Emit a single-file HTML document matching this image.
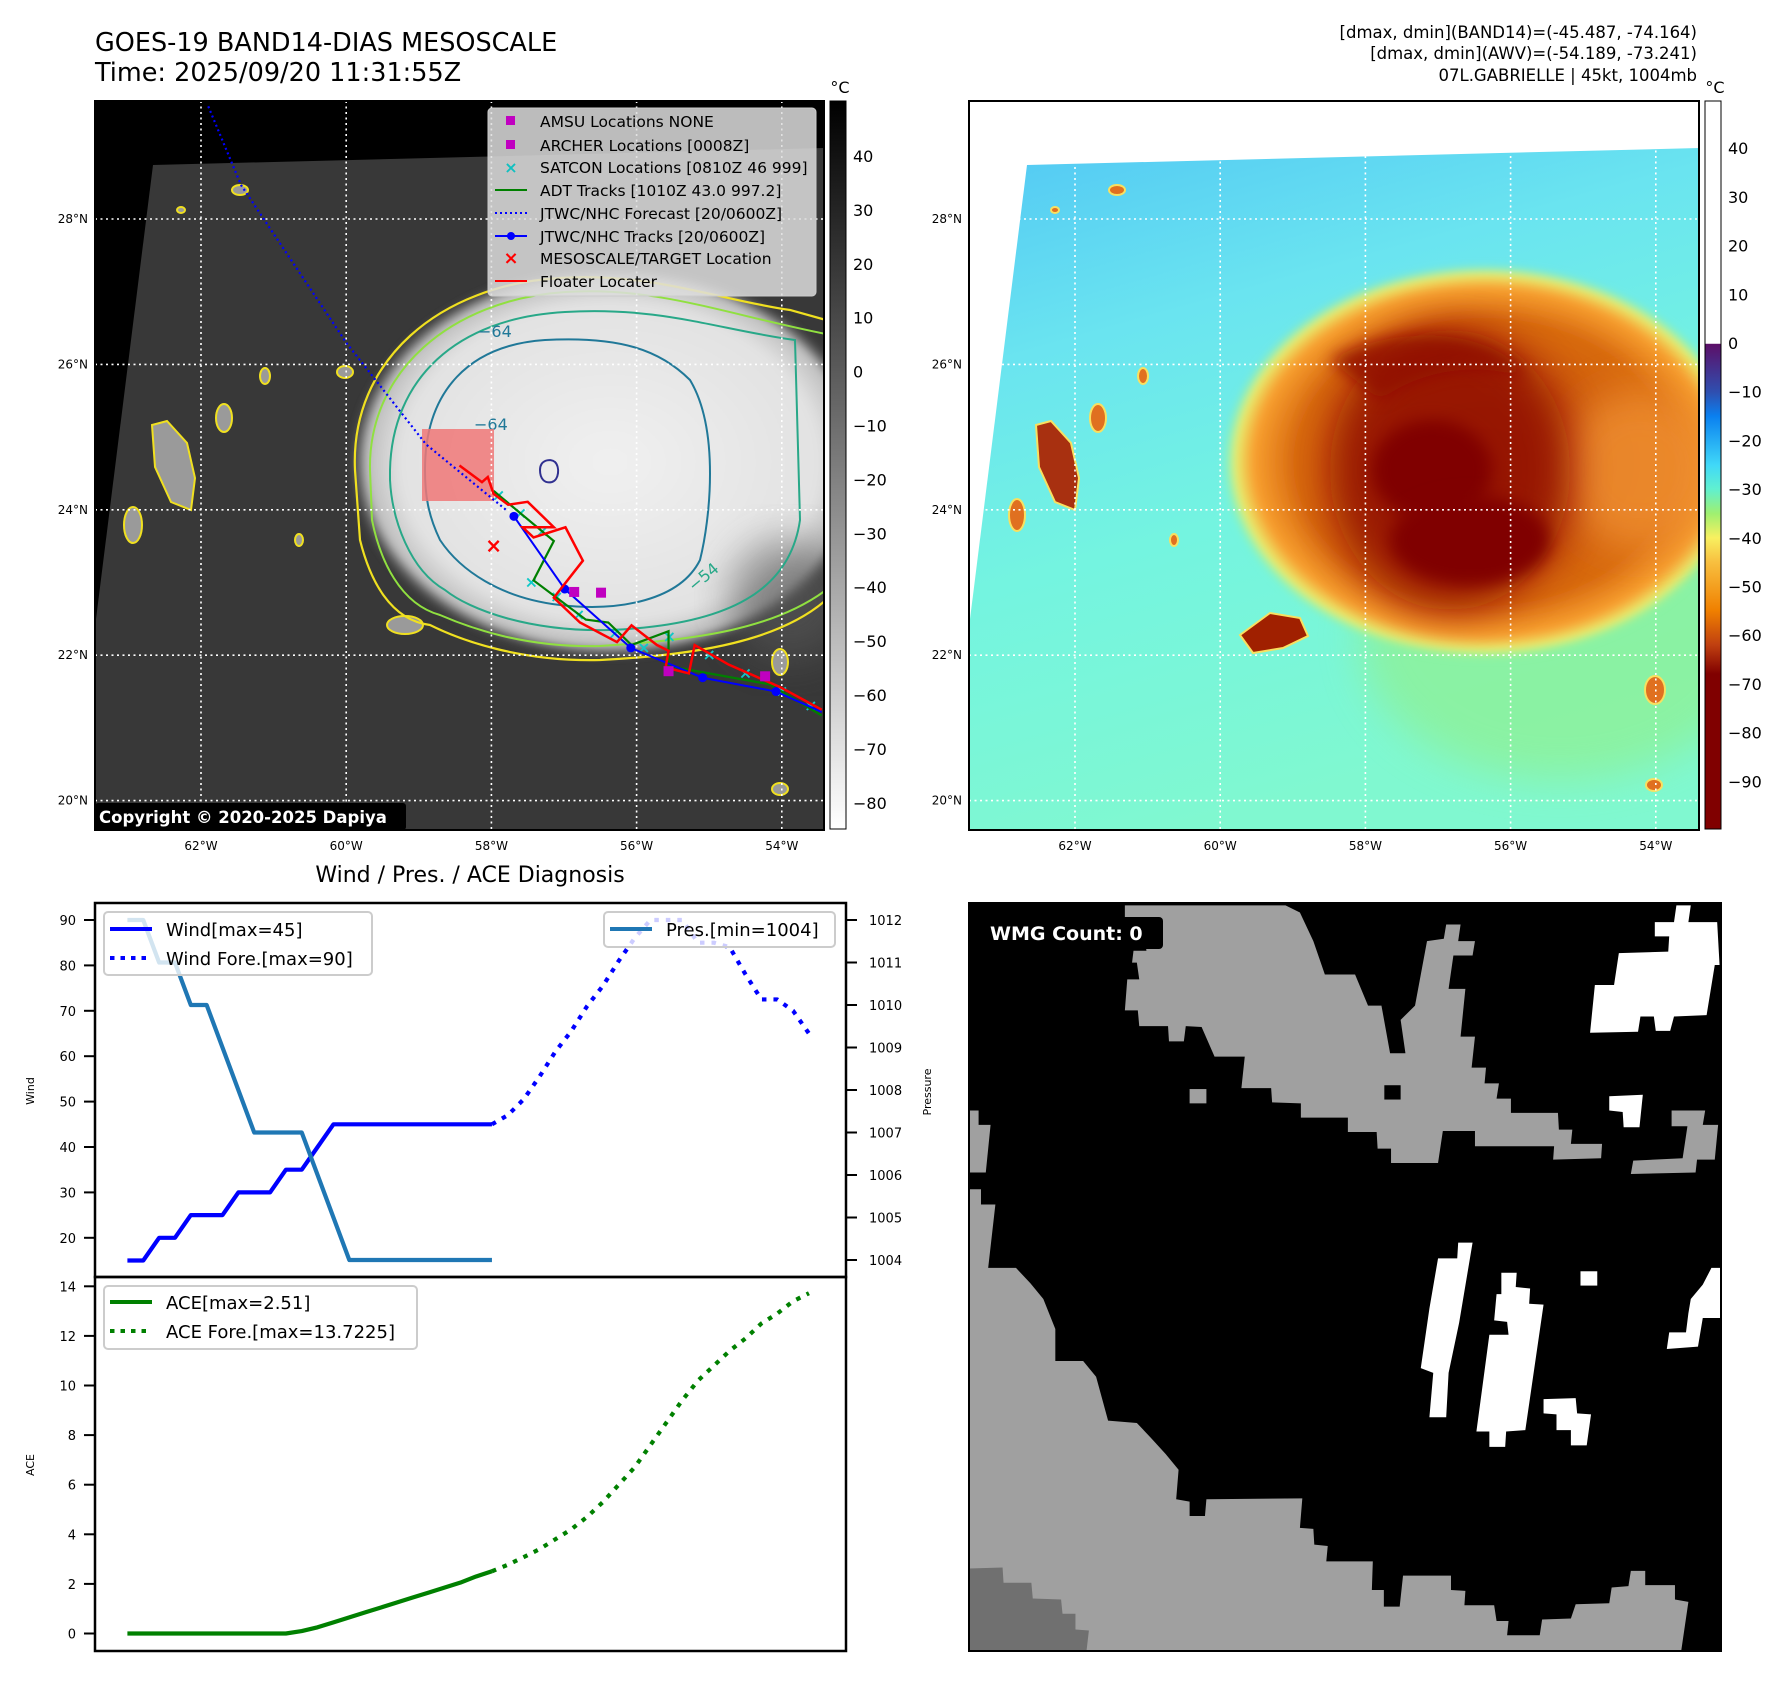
<!DOCTYPE html>
<html><head><meta charset="utf-8"><style>
html,body{margin:0;padding:0;background:#fff;}
svg{display:block;font-family:"DejaVu Sans","Liberation Sans",sans-serif;}
</style></head><body>
<svg id="root" width="1788" height="1690" viewBox="0 0 1788 1690">
<defs>
 <filter id="blur8" x="-30%" y="-30%" width="160%" height="160%"><feGaussianBlur stdDeviation="8"/></filter>
 <filter id="blur4" x="-30%" y="-30%" width="160%" height="160%"><feGaussianBlur stdDeviation="4"/></filter>
 <filter id="blur20" x="-30%" y="-30%" width="160%" height="160%"><feGaussianBlur stdDeviation="20"/></filter>
 <clipPath id="clipL"><rect x="95" y="101" width="729" height="729"/></clipPath>
 <clipPath id="clipR"><rect x="969" y="101" width="730" height="729"/></clipPath>
 <clipPath id="clipW"><rect x="969" y="903" width="752" height="748"/></clipPath>
 <linearGradient id="cbL" x1="0" y1="0" x2="0" y2="1"><stop offset="0" stop-color="#000"/><stop offset="0.35" stop-color="#555"/><stop offset="1" stop-color="#fff"/></linearGradient>
 <linearGradient id="cbR" x1="0" y1="0" x2="0" y2="1">
  <stop offset="0" stop-color="#fff"/><stop offset="0.333" stop-color="#fff"/>
  <stop offset="0.334" stop-color="#5c0f68"/><stop offset="0.4" stop-color="#2f4fb0"/>
  <stop offset="0.433" stop-color="#0a80f0"/><stop offset="0.5" stop-color="#40d8f8"/>
  <stop offset="0.533" stop-color="#60f0d0"/><stop offset="0.567" stop-color="#a0f070"/>
  <stop offset="0.6" stop-color="#f8f060"/><stop offset="0.633" stop-color="#f8c040"/>
  <stop offset="0.7" stop-color="#f08000"/><stop offset="0.747" stop-color="#c04010"/>
  <stop offset="0.787" stop-color="#800000"/><stop offset="1" stop-color="#800000"/></linearGradient>
 <linearGradient id="bgR" x1="0" y1="0" x2="0.3" y2="1"><stop offset="0" stop-color="#52c8f4"/><stop offset="0.3" stop-color="#6ae4f0"/><stop offset="0.6" stop-color="#74f4e0"/><stop offset="1" stop-color="#80f8d0"/></linearGradient>
 <radialGradient id="cloudL"><stop offset="0" stop-color="#f0f0f0"/><stop offset="0.8" stop-color="#e2e2e2"/><stop offset="0.93" stop-color="#bdbdbd"/><stop offset="1" stop-color="#3a3a3a" stop-opacity="0"/></radialGradient>
 <radialGradient id="cloudR"><stop offset="0" stop-color="#b84008"/><stop offset="0.72" stop-color="#d86a10"/><stop offset="0.88" stop-color="#f8a030"/><stop offset="0.95" stop-color="#e8f070"/><stop offset="1" stop-color="#80f0a0" stop-opacity="0"/></radialGradient>
</defs>

<!-- titles -->
<text x="95" y="51" font-size="25.5">GOES-19 BAND14-DIAS MESOSCALE</text>
<text x="95" y="81" font-size="25.5">Time: 2025/09/20 11:31:55Z</text>
<g font-size="16.5" text-anchor="end">
 <text x="1697" y="38">[dmax, dmin](BAND14)=(-45.487, -74.164)</text>
 <text x="1697" y="59">[dmax, dmin](AWV)=(-54.189, -73.241)</text>
 <text x="1697" y="81">07L.GABRIELLE | 45kt, 1004mb</text>
</g>

<!-- LEFT MAP -->
<g clip-path="url(#clipL)">
 <rect x="95" y="101" width="729" height="729" fill="#000"/>
 <polygon points="153,165 824,148 824,830 95,830 95,627" fill="#383838"/>
 <ellipse cx="610" cy="462" rx="262" ry="198" fill="url(#cloudL)" filter="url(#blur4)"/>
 <ellipse cx="790" cy="600" rx="60" ry="60" fill="#5a5a5a" filter="url(#blur20)" opacity="0.6"/>
 <g fill="#9a9a9a" stroke="#f0e020" stroke-width="2">
  <path d="M152,425 l15,-4 l20,22 l8,35 l-4,32 l-20,-8 l-16,-35 z"/>
  <ellipse cx="224" cy="418" rx="8" ry="14"/><ellipse cx="133" cy="525" rx="9" ry="18"/>
  <ellipse cx="240" cy="190" rx="8" ry="5"/><ellipse cx="181" cy="210" rx="4" ry="3"/>
  <ellipse cx="265" cy="376" rx="5" ry="8"/><ellipse cx="299" cy="540" rx="4" ry="6"/>
  <ellipse cx="780" cy="662" rx="8" ry="13"/><ellipse cx="780" cy="789" rx="8" ry="6"/>
  <ellipse cx="405" cy="625" rx="18" ry="9"/><ellipse cx="345" cy="372" rx="8" ry="6"/>
 </g>
 <g fill="none">
  <path d="M355,470 C350,360 440,285 560,278 C650,272 720,300 790,310 L826,320 L826,600 C780,640 700,655 600,660 C520,662 460,640 430,625 C390,620 370,580 360,540 Z" stroke="#f0e020" stroke-width="2.2"/>
  <path d="M370,470 C368,372 450,300 565,292 C655,286 725,314 826,334 L826,590 C775,628 700,640 600,646 C525,648 470,628 440,615 C400,604 380,560 372,520 Z" stroke="#90e040" stroke-width="2"/>
  <path d="M390,470 C392,380 455,318 565,312 C660,306 720,330 795,340 L800,520 C790,590 730,625 610,630 C530,632 470,610 445,590 C410,570 392,520 390,480 Z" stroke="#28a888" stroke-width="2"/>
  <path d="M425,470 C425,390 470,345 545,340 C620,336 660,350 690,380 C720,430 710,520 700,560 C680,600 620,612 560,605 C500,598 460,570 440,540 C428,515 425,495 425,470 Z" stroke="#207898" stroke-width="2"/>
  <path d="M540,470 c0,-10 10,-12 15,-8 c5,5 4,18 -3,20 c-8,2 -12,-4 -12,-12 z" stroke="#303090" stroke-width="2"/>
 </g>
 <g font-size="16">
  <text x="478" y="337" fill="#207898">−64</text><text x="474" y="430" fill="#207898">−64</text>
  <text x="694" y="592" fill="#28a888" transform="rotate(-40 694 592)">−54</text>
 </g>
 <rect x="422" y="429" width="72" height="72" fill="#f07878" opacity="0.85"/>
 <g id="gridL"></g>
 <g id="tracksL"></g>
 <g>
  <rect x="488" y="108" width="328" height="188" rx="4" fill="#ddd" fill-opacity="0.85" stroke="#ccc"/>
  <g font-size="15.5">
   <rect x="506" y="116" width="9" height="9" fill="#c000c0"/><text x="540" y="127">AMSU Locations NONE</text>
   <rect x="506" y="140" width="9" height="9" fill="#c000c0"/><text x="540" y="151">ARCHER Locations [0008Z]</text>
   <text x="511" y="173" fill="#10c0c0" text-anchor="middle" font-size="16" font-weight="bold">×</text><text x="540" y="173">SATCON Locations [0810Z 46 999]</text>
   <line x1="495" y1="190" x2="527" y2="190" stroke="#008000" stroke-width="2"/><text x="540" y="196">ADT Tracks [1010Z 43.0 997.2]</text>
   <line x1="495" y1="213" x2="527" y2="213" stroke="#0000ff" stroke-width="2" stroke-dasharray="2,3"/><text x="540" y="219">JTWC/NHC Forecast [20/0600Z]</text>
   <line x1="495" y1="236" x2="527" y2="236" stroke="#0000ff" stroke-width="2"/><circle cx="511" cy="236" r="4" fill="#00f"/><text x="540" y="242">JTWC/NHC Tracks [20/0600Z]</text>
   <text x="511" y="264" fill="#f00" text-anchor="middle" font-size="18" font-weight="bold">×</text><text x="540" y="264">MESOSCALE/TARGET Location</text>
   <line x1="495" y1="281" x2="527" y2="281" stroke="#f00" stroke-width="2"/><text x="540" y="287">Floater Locater</text>
  </g>
 </g>
 <rect x="95" y="803" width="311" height="27" rx="3" fill="#000"/>
 <text x="99" y="823" font-size="16.5" font-weight="bold" fill="#fff">Copyright © 2020-2025 Dapiya</text>
</g>
<rect x="95" y="101" width="729" height="729" fill="none" stroke="#000" stroke-width="2"/>
<rect x="830" y="101" width="16" height="728" fill="url(#cbL)" stroke="#000" stroke-width="1"/>
<text x="840" y="93" font-size="16" text-anchor="middle">°C</text>
<g id="cbLabL" font-size="16"></g>

<!-- RIGHT MAP -->
<g clip-path="url(#clipR)">
 <rect x="969" y="101" width="730" height="729" fill="#fff"/>
 <polygon points="1027,165 1699,148 1699,830 969,830 969,627" fill="url(#bgR)"/>
 <ellipse cx="1560" cy="640" rx="200" ry="140" fill="#90f090" filter="url(#blur20)" opacity="0.7"/>
 <ellipse cx="1484" cy="462" rx="262" ry="198" fill="url(#cloudR)" filter="url(#blur4)"/>
 <ellipse cx="1640" cy="470" rx="80" ry="80" fill="#f09030" filter="url(#blur20)" opacity="0.8"/>
 <ellipse cx="1450" cy="470" rx="120" ry="140" fill="#901000" filter="url(#blur20)" opacity="0.85"/>
 <path d="M1330,360 C1400,320 1500,330 1530,380 C1480,360 1420,370 1380,400 Z" fill="#900800" filter="url(#blur8)" opacity="0.8"/>
 <ellipse cx="1432" cy="470" rx="60" ry="50" fill="#800000" filter="url(#blur8)"/>
 <ellipse cx="1470" cy="540" rx="80" ry="45" fill="#800000" filter="url(#blur8)"/>
 <g fill="#e07020" stroke="#f8e060" stroke-width="2">
  <path d="M1036,425 l15,-4 l20,22 l8,35 l-4,32 l-20,-8 l-16,-35 z" fill="#a83010"/>
  <ellipse cx="1098" cy="418" rx="8" ry="14"/><ellipse cx="1017" cy="515" rx="8" ry="16"/>
  <ellipse cx="1117" cy="190" rx="8" ry="5"/><ellipse cx="1055" cy="210" rx="4" ry="3"/>
  <ellipse cx="1143" cy="376" rx="5" ry="8"/><ellipse cx="1174" cy="540" rx="4" ry="6"/>
  <ellipse cx="1655" cy="690" rx="10" ry="14"/><ellipse cx="1654" cy="785" rx="8" ry="6"/>
  <path d="M1240,635 l30,-22 l30,5 l8,18 l-25,12 l-30,5 z" fill="#a02000"/>
 </g>
 <g id="gridR"></g>
</g>
<rect x="969" y="101" width="730" height="729" fill="none" stroke="#000" stroke-width="2"/>
<rect x="1705" y="101" width="16" height="728" fill="url(#cbR)" stroke="#000" stroke-width="1"/>
<text x="1715" y="93" font-size="16" text-anchor="middle">°C</text>
<g id="cbLabR" font-size="16"></g>

<g id="geoLabels" font-size="12"></g>

<!-- CHART -->
<text x="470" y="882" font-size="22" text-anchor="middle">Wind / Pres. / ACE Diagnosis</text>
<g id="chart"></g>
<rect x="95" y="903" width="751" height="374" fill="none" stroke="#000" stroke-width="2.5"/>
<rect x="95" y="1277" width="751" height="374" fill="none" stroke="#000" stroke-width="2.5"/>
<text transform="translate(34 1091) rotate(-90)" font-size="11" text-anchor="middle">Wind</text>
<text transform="translate(34 1465) rotate(-90)" font-size="11" text-anchor="middle">ACE</text>
<text transform="translate(931 1092) rotate(-90)" font-size="11" text-anchor="middle">Pressure</text>
<g>
 <rect x="104" y="912" width="268" height="63" rx="4" fill="#fff" fill-opacity="0.8" stroke="#ccc" stroke-width="2"/>
 <line x1="110" y1="929" x2="152" y2="929" stroke="#00f" stroke-width="4"/>
 <line x1="110" y1="958" x2="152" y2="958" stroke="#00f" stroke-width="4" stroke-dasharray="4.5,6"/>
 <text x="166" y="936" font-size="18">Wind[max=45]</text><text x="166" y="965" font-size="18">Wind Fore.[max=90]</text>
</g>
<g>
 <rect x="104" y="1286" width="313" height="63" rx="4" fill="#fff" fill-opacity="0.8" stroke="#ccc" stroke-width="2"/>
 <line x1="110" y1="1302" x2="152" y2="1302" stroke="#008000" stroke-width="4"/>
 <line x1="110" y1="1331" x2="152" y2="1331" stroke="#008000" stroke-width="4" stroke-dasharray="4.5,6"/>
 <text x="166" y="1309" font-size="18">ACE[max=2.51]</text><text x="166" y="1338" font-size="18">ACE Fore.[max=13.7225]</text>
</g>
<g id="presLegend">
 <rect x="604" y="912" width="231" height="35" rx="4" fill="#fff" fill-opacity="0.8" stroke="#ccc" stroke-width="2"/>
 <line x1="610" y1="929" x2="652" y2="929" stroke="#1f77b4" stroke-width="4"/>
 <text x="666" y="936" font-size="18">Pres.[min=1004]</text>
</g>

<!-- WMG -->
<g clip-path="url(#clipW)">
 <rect x="969" y="903" width="752" height="748" fill="#000"/>
 <svg x="969" y="903" width="752" height="748" viewBox="0 0 1568 1568" preserveAspectRatio="none">
  <g fill="#a0a0a0">
   <polygon points="325,5 660,5 690,20 718,80 742,150 805,150 832,215 860,215 878,315 910,315 900,245 930,215 955,80 990,75 995,45 1025,45 1020,80 1055,80 1050,110 1010,110 1000,180 1035,180 1025,280 1055,280 1048,345 1078,345 1075,378 1105,378 1100,410 1130,410 1130,440 1228,440 1230,475 1258,475 1255,505 1320,505 1318,535 1218,538 1220,510 1055,510 1055,478 988,478 978,545 880,545 880,515 852,515 850,480 790,480 790,450 692,450 692,420 632,418 630,388 568,388 575,322 512,322 485,260 452,258 448,290 417,290 415,258 355,258 352,225 325,225 330,160 355,160 350,125 340,125 343,100 370,100 360,38 325,32"/>
   <polygon points="1465,435 1535,435 1530,465 1562,465 1555,538 1518,538 1515,565 1380,568 1385,540 1488,535 1498,468 1465,468"/>
   <polygon points="0,435 20,435 20,465 45,465 35,565 0,565"/>
   <rect x="460" y="390" width="35" height="30"/>
   <polygon points="0,600 25,600 25,632 55,632 40,765 98,765 128,797 155,830 180,893 180,960 238,960 265,993 290,1085 350,1090 380,1122 410,1155 437,1188 432,1250 460,1255 460,1285 492,1285 495,1250 695,1248 690,1310 718,1312 720,1345 748,1348 745,1380 842,1380 840,1440 865,1440 865,1475 898,1475 905,1410 1005,1410 1005,1440 1035,1442 1033,1472 1095,1472 1100,1505 1125,1505 1122,1535 1190,1535 1195,1502 1255,1500 1265,1470 1335,1468 1340,1435 1375,1432 1380,1400 1410,1400 1410,1430 1472,1430 1472,1460 1500,1465 1485,1568 0,1568"/>
  </g>
  <rect x="866" y="382" width="34" height="30" fill="#000"/>
  <polygon points="0,1395 70,1393 72,1425 130,1425 133,1458 192,1460 195,1490 222,1490 222,1523 250,1525 245,1568 0,1568" fill="#707070"/>
  <g fill="#fff">
   <polygon points="1430,40 1470,40 1475,5 1505,5 1500,40 1560,40 1565,130 1555,130 1538,235 1470,238 1462,268 1432,268 1428,238 1400,238 1395,270 1295,272 1305,172 1345,172 1355,105 1458,102 1460,70 1430,70"/>
   <polygon points="1335,405 1405,402 1398,470 1365,470 1363,438 1335,435"/>
   <polygon points="978,745 1018,745 1020,712 1050,712 1022,880 1000,985 995,1078 960,1078 968,985 942,975 960,850"/>
   <polygon points="1110,775 1142,775 1140,805 1170,808 1168,840 1198,842 1160,1105 1120,1108 1118,1140 1085,1140 1085,1108 1058,1108 1085,905 1125,905 1122,878 1095,875 1100,820 1110,820"/>
   <rect x="1275" y="772" width="35" height="30"/>
   <polygon points="1198,1040 1265,1038 1268,1070 1297,1072 1288,1137 1255,1137 1255,1105 1225,1105 1225,1072 1198,1070"/>
   <polygon points="1548,765 1568,765 1568,870 1530,870 1520,930 1455,935 1460,900 1495,900 1500,860 1505,830 1530,800"/>
  </g>
 </svg>
 <rect x="985" y="917" width="178" height="32" rx="4" fill="#000"/>
 <text x="990" y="940" font-size="19" font-weight="bold" fill="#fff">WMG Count: 0</text>
</g>
<rect x="969" y="903" width="752" height="748" fill="none" stroke="#000" stroke-width="2"/>
</svg>

<script>
// ---------------- chart data ----------------
const windObs = [15,15,20,20,25,25,25,30,30,30,35,35,40,45,45,45,45,45,45,45,45,45,45,45];
const windFc = [45,47,50.5,55.5,61,65.5,71,75.5,81,86,90,90,90,85,85,84,78,72.5,72.5,70,65];
const presObs = [1012,1012,1011,1011,1010,1010,1009,1008,1007,1007,1007,1007,1006,1005,1004,1004,1004,1004,1004,1004,1004,1004,1004,1004];
const aceObs = [0,0,0,0,0,0,0,0,0,0,0,0.1,0.25,0.45,0.65,0.85,1.05,1.25,1.45,1.65,1.85,2.05,2.3,2.51];
const aceFc = [2.51,2.77,3.08,3.4,3.8,4.2,4.7,5.3,6.0,6.7,7.6,8.5,9.4,10.2,10.8,11.4,11.9,12.5,12.9,13.4,13.72];
const windTicks = [20,30,40,50,60,70,80,90];
const presTicks = [1004,1005,1006,1007,1008,1009,1010,1011,1012];
const aceTicks = [0,2,4,6,8,10,12,14];
// ---------------- map data ----------------
const lonTicks = [62,60,58,56,54];
const latTicks = [28,26,24,22,20];
const cbLeftTicks = [40,30,20,10,0,-10,-20,-30,-40,-50,-60,-70,-80];
const cbRightTicks = [40,30,20,10,0,-10,-20,-30,-40,-50,-60,-70,-80,-90];
const fcLon = [61.9,61.45,60.0,58.9,57.8];
const fcLat = [29.55,28.47,26.3,24.9,24.0];
const trkLon = [57.69,56.99,56.08,55.09,54.08,53.45];
const trkLat = [23.91,22.91,22.10,21.69,21.50,21.22];
const adtLon = [57.97,57.14,57.42,56.70,56.39,56.07,55.56,55.56,54.17,53.45];
const adtLat = [24.26,23.57,23.03,22.49,22.45,22.14,22.33,21.85,21.60,21.17];
const fltLon = [58.44,58.13,58.05,57.97,57.77,57.50,57.14,57.57,57.42,56.98,56.74,57.14,56.78,56.27,56.07,55.72,55.56,55.60,55.28,55.20,54.73,54.02,53.45];
const fltLat = [24.61,24.38,24.45,24.22,24.07,24.11,23.76,23.76,23.62,23.76,23.30,22.79,22.45,22.18,22.41,22.14,22.06,21.83,21.75,22.14,21.87,21.56,21.25];
const satLon = [57.9,57.6,57.3,57.45,57.1,56.8,56.3,55.9,55.55,55.0,54.5,54.0,53.6];
const satLat = [24.2,23.95,23.7,23.0,22.8,22.55,22.3,22.1,22.25,22.0,21.75,21.5,21.3];
const archLon = [56.86,56.49,55.56,54.23];
const archLat = [22.87,22.86,21.78,21.71];
const tgtLon = [57.97], tgtLat = [23.51];

const NS = 'http://www.w3.org/2000/svg';
function mk(tag, attrs, parent){const e=document.createElementNS(NS,tag);for(const k in attrs)e.setAttribute(k,attrs[k]);parent.appendChild(e);return e;}
function lx(lon, off){return 201 + (62-lon)*72.6 + off;}
function ly(lat){return 219 + (28-lat)*72.7;}

[['gridL',0,95,824],['gridR',874,969,1699]].forEach(([id,off,x0,x1])=>{
 const g=document.getElementById(id);
 lonTicks.forEach(l=>{const e=mk('line',{x1:lx(l,off),x2:lx(l,off),y1:101,y2:830,stroke:'#fff','stroke-width':1.6,'stroke-dasharray':'2,3.5'},g);
  
  });
 latTicks.forEach(l=>{const e=mk('line',{x1:x0,x2:x1,y1:ly(l),y2:ly(l),stroke:'#fff','stroke-width':1.6,'stroke-dasharray':'2,3.5'},g);
  
  });
});
const gl=document.getElementById('geoLabels');
[[0,88],[874,962]].forEach(([off,lxr])=>{
 lonTicks.forEach(l=>{const t=mk('text',{x:lx(l,off),y:850,'text-anchor':'middle'},gl);t.textContent=l+'°W';
  
  });
 latTicks.forEach(l=>{const t=mk('text',{x:lxr,y:ly(l)+4,'text-anchor':'end'},gl);t.textContent=l+'°N';
  
  });
});
const cL=document.getElementById('cbLabL');
cbLeftTicks.forEach(v=>{const t=mk('text',{x:853,y:156+(40-v)*5.39+6},cL);t.textContent=String(v).replace('-','−');
 
 });
const cR=document.getElementById('cbLabR');
cbRightTicks.forEach(v=>{const t=mk('text',{x:1728,y:343-v*4.87+6},cR);t.textContent=String(v).replace('-','−');
 
 });

const tg=document.getElementById('tracksL');
function pts(lons,lats){return lons.map((l,i)=>lx(l,0)+','+ly(lats[i])).join(' ');}
let e;
e=mk('polyline',{points:pts(fcLon,fcLat),fill:'none',stroke:'#0000ff','stroke-width':2.2,'stroke-dasharray':'2,3'},tg);


satLon.forEach((l,i)=>{const t=mk('text',{x:lx(l,0),y:ly(satLat[i])+5,fill:'#10c8c8','font-size':16,'font-weight':'bold','text-anchor':'middle'},tg);t.textContent='×';
 
 });
e=mk('polyline',{points:pts(adtLon,adtLat),fill:'none',stroke:'#008000','stroke-width':2.2},tg);


e=mk('polyline',{points:pts(trkLon,trkLat),fill:'none',stroke:'#0000ff','stroke-width':2},tg);


trkLon.slice(0,5).forEach((l,i)=>{const c=mk('circle',{cx:lx(l,0),cy:ly(trkLat[i]),r:4.5,fill:'#00f'},tg);
 
 });
e=mk('polyline',{points:pts(fltLon,fltLat),fill:'none',stroke:'#ff0000','stroke-width':2.5},tg);


archLon.forEach((l,i)=>{const r=mk('rect',{x:lx(l,0)-5,y:ly(archLat[i])-5,width:10,height:10,fill:'#c000c0'},tg);
 
 });
tgtLon.forEach((l,i)=>{const t=mk('text',{x:lx(l,0),y:ly(tgtLat[i])+7,fill:'#f00','font-size':20,'font-weight':'bold','text-anchor':'middle'},tg);t.textContent='×';
 
 });

const ch=document.getElementById('chart');
const X0=127.4, XS=15.85;
function xi(i){return X0+i*XS;}
function yW(v){return 920+(90-v)*4.54;}
function yP(p){return 920+(1012-p)*42.5;}
function yA(a){return 1633.5-a*24.8;}
function ticks(vals,fy,side,anchorX){vals.forEach(v=>{const y=fy(v);
 const ln=mk('line',{x1:side<0?84:846,x2:side<0?95:857,y1:y,y2:y,stroke:'#000','stroke-width':2},ch);
 
 
 const t=mk('text',{x:anchorX,y:y+5,'font-size':13,'text-anchor':side<0?'end':'start'},ch);t.textContent=v;
 
 });}
ticks(windTicks,yW,-1,76);
ticks(aceTicks,yA,-1,76);
ticks(presTicks,yP,1,869);
function line(vals,start,fy,color,dash,name){
 const p=vals.map((v,i)=>xi(start+i)+','+fy(v)).join(' ');
 const a={points:p,fill:'none',stroke:color,'stroke-width':4.2,'stroke-linejoin':'round'};
 if(dash)a['stroke-dasharray']='4.5,7';
 const el=mk('polyline',a,ch);
 
 }
line(windObs,0,yW,'#0000ff',false,'wind-line');
line(windFc,windObs.length-1,yW,'#0000ff',true,'wind-forecast-line');
line(presObs,0,yP,'#1f77b4',false,'pressure-line');
line(aceObs,0,yA,'#008000',false,'ace-line');
line(aceFc,aceObs.length-1,yA,'#008000',true,'ace-forecast-line');
document.getElementById('root').appendChild(document.getElementById('presLegend'));
</script>
</body></html>
